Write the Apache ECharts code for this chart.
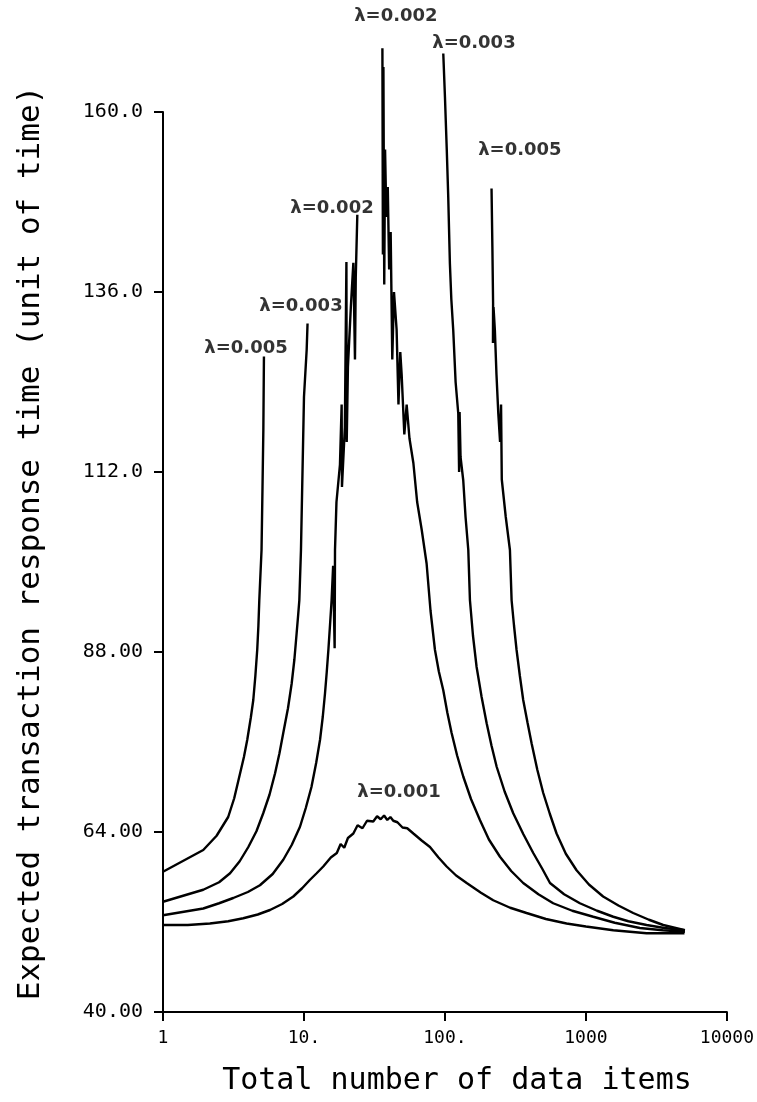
<!DOCTYPE html>
<html><head><meta charset="utf-8">
<script src="https://cdn.jsdelivr.net/npm/echarts@6/dist/echarts.min.js"></script>
<style>html,body{margin:0;padding:0;background:#fff}#chart{width:757px;height:1102px}</style>
</head><body><div id="chart"></div>
<script>
// Tick values and labels
const xTickValues = [1, 10, 100, 1000, 10000];
const xTickLabels = ['1', '10.', '100.', '1000', '10000'];
const yTickValues = [40, 64, 88, 112, 136, 160];
const yTickLabels = ['40.00', '64.00', '88.00', '112.0', '136.0', '160.0'];

// lambda = 0.001 (continuous)
const x001 = [1, 1.5, 2.15, 2.9, 3.71, 4.7, 5.74, 7, 8.4, 9.7, 11.0, 12.3, 13.7, 15.5, 17.1, 18.2, 19.3, 20.5, 22.4, 24, 26, 28, 31, 33, 35, 37, 39, 41, 43, 46, 50, 54, 59.7, 68, 78.3, 90, 102.8, 120, 142.6, 180, 220, 290, 379, 520, 729, 1000, 1563, 2694, 5000];
const y001 = [51.6, 51.6, 51.8, 52.1, 52.5, 53.0, 53.6, 54.4, 55.4, 56.5, 57.6, 58.5, 59.4, 60.6, 61.2, 62.4, 61.9, 63.2, 63.8, 64.9, 64.5, 65.5, 65.4, 66.1, 65.7, 66.2, 65.6, 66.0, 65.5, 65.3, 64.6, 64.5, 63.8, 62.9, 62.0, 60.6, 59.4, 58.2, 57.2, 55.9, 54.9, 53.9, 53.2, 52.4, 51.8, 51.4, 50.9, 50.5, 50.5];

// lambda = 0.002 (left and right branches)
const x002L = [1, 1.93, 2.5, 3.15, 4.0, 4.87, 6.0, 7.13, 8.2, 9.37, 10.3, 11.3, 12.2, 13.0, 13.6, 14.1, 14.5, 14.9, 15.3, 15.7, 16.1, 16.5, 16.6, 17.0, 18.0, 18.5, 18.6, 19.5, 20.0, 20.1, 20.5, 21.5, 22.4, 23.0, 23.3, 23.9];
const y002L = [52.9, 53.8, 54.5, 55.2, 56.0, 56.9, 58.4, 60.3, 62.3, 64.7, 67.2, 70.0, 73.2, 76.3, 79.4, 82.5, 85.3, 88.3, 91.6, 94.9, 99.5, 88.5, 101.6, 108, 113, 121, 110, 118, 140, 116, 126, 134, 139.9, 127, 138, 146.3];
const x002R = [36.0, 36.3, 36.6, 37.1, 37.6, 38.4, 39.3, 40.2, 41.2, 42.3, 43.5, 45.4, 46.8, 48.2, 49.3, 51.5, 53.5, 56, 59.7, 63.5, 68.4, 74.1, 79, 84.9, 90.5, 97.3, 104, 111.5, 122, 134.8, 153, 177, 205, 245.6, 295, 359, 460, 586, 800, 1127, 1600, 2414, 3500, 5037];
const y002R = [168.5, 141, 166, 137, 155, 146, 150, 139, 144, 127, 136, 131, 121, 128, 125, 117, 121, 116.5, 113.2, 108, 104.3, 99.8, 93.5, 88.3, 85.4, 82.9, 79.9, 77.2, 74.2, 71.4, 68.4, 65.6, 63.0, 60.7, 58.8, 57.2, 55.7, 54.5, 53.5, 52.7, 51.9, 51.2, 50.9, 50.7];

// lambda = 0.003 (left and right branches)
const x003L = [1, 1.93, 2.5, 2.99, 3.5, 4.03, 4.6, 5.14, 5.7, 6.23, 6.7, 7.13, 7.7, 8.18, 8.55, 8.87, 9.1, 9.27, 9.52, 10.0, 10.45, 10.6];
const y003L = [54.7, 56.3, 57.3, 58.5, 60.1, 62.0, 64.1, 66.5, 69.0, 71.8, 74.5, 77.2, 80.5, 83.8, 87.0, 90.5, 93.0, 94.9, 101.6, 122, 128.3, 131.8];
const x003R = [97.3, 100, 103, 105.5, 108.4, 111, 114.5, 119, 124.3, 126, 127, 129, 134.8, 140, 146.4, 150.4, 158, 167.7, 182, 197.6, 214, 232.7, 265, 305, 360, 423, 490, 556, 700, 906, 1200, 1563, 2000, 2694, 3600, 5037];
const y003R = [167.8, 162, 155, 148.7, 139.8, 135, 130.9, 124, 119.8, 112, 120, 114, 110.9, 106, 101.6, 94.9, 90.2, 86.0, 82.0, 78.5, 75.5, 72.7, 69.4, 66.5, 63.7, 61.2, 59.1, 57.2, 55.7, 54.5, 53.5, 52.7, 52.1, 51.6, 51.2, 50.9];

// lambda = 0.005 (left and right branches)
const x005L = [1, 1.93, 2.4, 2.9, 3.2, 3.52, 3.75, 3.96, 4.2, 4.37, 4.52, 4.66, 4.75, 4.82, 5.0, 5.08, 5.15, 5.2];
const y005L = [58.7, 61.6, 63.5, 66.0, 68.5, 71.8, 74.0, 76.3, 79.3, 81.6, 84.8, 88.3, 91.5, 94.9, 101.6, 110, 117.6, 127.4];
const x005R = [214, 217, 219.5, 219, 221, 226, 232, 239, 246, 250, 253, 259, 270, 289, 297, 309, 322, 340, 359, 385, 412, 452, 498, 555, 619, 720, 858, 1050, 1324, 1700, 2164, 2800, 3533, 5037];
const y005R = [149.8, 142, 134.5, 129.2, 134, 130.9, 125, 119.8, 116, 121, 111, 110.9, 106, 101.6, 94.9, 91.5, 88.3, 84.8, 81.6, 78.6, 75.8, 72.3, 69.2, 66.4, 63.8, 61.1, 58.9, 57.0, 55.4, 54.2, 53.2, 52.3, 51.6, 50.9];

// Curve annotations
const labelTexts = ['λ=0.002', 'λ=0.003', 'λ=0.005', 'λ=0.002', 'λ=0.003', 'λ=0.005', 'λ=0.001'];
const labelX = [44.9, 160.6, 340, 15.8, 9.52, 3.88, 47.2];
const labelY = [172.7, 169.2, 154.9, 147.2, 134.1, 128.5, 69.3];

function pairs(xs, ys) { return xs.map((x, i) => [x, ys[i]]); }
const curves = [[x001, y001], [x002L, y002L], [x002R, y002R], [x003L, y003L], [x003R, y003R], [x005L, y005L], [x005R, y005R]];

const lineSeries = curves.map(c => ({
  type: 'line',
  data: pairs(c[0], c[1]),
  showSymbol: false,
  symbol: 'none',
  clip: false,
  silent: true,
  lineStyle: { color: '#000', width: 2.4 }
}));

const chart = echarts.init(document.getElementById('chart'));
chart.setOption({
  animation: false,
  backgroundColor: '#fff',
  grid: { left: 163, right: 29, top: 112, bottom: 90, containLabel: false },
  xAxis: {
    type: 'log', logBase: 10, min: 1, max: 10000,
    axisLine: { lineStyle: { color: '#000', width: 2 } },
    axisTick: { show: true, inside: false, length: 9, lineStyle: { color: '#000', width: 2 } },
    minorTick: { show: false },
    splitLine: { show: false },
    axisLabel: {
      formatter: v => { const i = xTickValues.indexOf(Math.round(v)); return i >= 0 ? xTickLabels[i] : ''; },
      color: '#000', fontFamily: 'DejaVu Sans Mono', fontSize: 18, margin: 17
    },
    name: 'Total number of data items',
    nameLocation: 'middle',
    nameGap: 54,
    nameTextStyle: { color: '#000', fontFamily: 'DejaVu Sans Mono', fontSize: 30, padding: [0, 0, 0, 24] }
  },
  yAxis: {
    type: 'value', min: 40, max: 160, interval: 24,
    axisLine: { show: true, lineStyle: { color: '#000', width: 2 } },
    axisTick: { show: true, inside: false, length: 9, lineStyle: { color: '#000', width: 2 } },
    splitLine: { show: false },
    axisLabel: {
      formatter: v => { const i = yTickValues.indexOf(Math.round(v)); return i >= 0 ? yTickLabels[i] : ''; },
      color: '#000', fontFamily: 'DejaVu Sans Mono', fontSize: 20, margin: 20
    },
    name: 'Expected transaction response time (unit of time)',
    nameLocation: 'middle',
    nameGap: 117,
    nameTextStyle: { color: '#000', fontFamily: 'DejaVu Sans Mono', fontSize: 31, padding: [0, 0, 0, 38] }
  },
  series: lineSeries.concat([{
    type: 'scatter',
    data: pairs(labelX, labelY),
    symbolSize: 1,
    clip: false,
    silent: true,
    itemStyle: { color: 'rgba(0,0,0,0)' },
    label: {
      show: true, position: 'inside',
      formatter: p => labelTexts[p.dataIndex],
      color: '#000', fontFamily: 'DejaVu Sans', fontSize: 18, fontWeight: 'bold'
    }
  }])
});
</script>
</body></html>
